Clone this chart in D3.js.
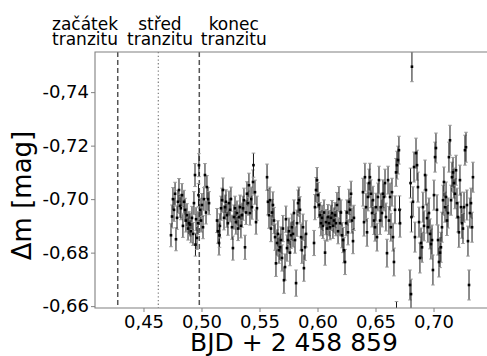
<!DOCTYPE html>
<html>
<head>
<meta charset="utf-8">
<script src="https://cdn.jsdelivr.net/npm/d3@7"></script>
<style>
  html, body { margin: 0; padding: 0; background: #fff; }
  svg { display: block; font-family: "DejaVu Sans", sans-serif; }
</style>
</head>
<body>
<svg id="chart" width="487" height="356"></svg>
<script>
// light curve, BJD - 2458859 vs differential magnitude
const bjd = [
  0.4737, 0.4746, 0.4754, 0.4763, 0.4772, 0.4780, 0.4789, 0.4797, 0.4806, 0.4815,
  0.4823, 0.4832, 0.4840, 0.4849, 0.4858, 0.4866, 0.4875, 0.4884, 0.4892, 0.4901,
  0.4909, 0.4918, 0.4927, 0.4935, 0.4944, 0.4948, 0.4953, 0.4961, 0.4970, 0.4974,
  0.4978, 0.4987, 0.4996, 0.5004, 0.5013, 0.5021, 0.5030, 0.5039, 0.5047, 0.5056,
  0.5065,
  0.5134, 0.5142, 0.5151, 0.5155, 0.5159, 0.5168, 0.5177, 0.5185, 0.5194, 0.5203,
  0.5211, 0.5220, 0.5228, 0.5237, 0.5246, 0.5254, 0.5263, 0.5271, 0.5280, 0.5289,
  0.5297, 0.5306, 0.5315, 0.5323, 0.5332, 0.5340, 0.5349, 0.5358, 0.5366, 0.5375,
  0.5384, 0.5392, 0.5401, 0.5409, 0.5418, 0.5427, 0.5435, 0.5444, 0.5448, 0.5461,
  0.5470, 0.5478,
  0.5565, 0.5573, 0.5582, 0.5590, 0.5599, 0.5608, 0.5616, 0.5625, 0.5634, 0.5642,
  0.5651, 0.5659, 0.5668, 0.5677, 0.5685, 0.5694, 0.5702, 0.5711, 0.5720, 0.5728,
  0.5737, 0.5746, 0.5754, 0.5763, 0.5771, 0.5780, 0.5789, 0.5797, 0.5806, 0.5815,
  0.5823, 0.5832, 0.5840, 0.5849, 0.5858, 0.5866, 0.5875, 0.5883, 0.5892, 0.5901,
  0.5970, 0.5978, 0.5987, 0.5996, 0.6004, 0.6013, 0.6021, 0.6030, 0.6039, 0.6047,
  0.6056, 0.6065, 0.6073, 0.6082, 0.6090, 0.6099, 0.6108, 0.6116, 0.6125, 0.6133,
  0.6142, 0.6151, 0.6159, 0.6168, 0.6177, 0.6185, 0.6194, 0.6202, 0.6211, 0.6220,
  0.6228, 0.6237, 0.6246, 0.6254, 0.6263, 0.6271, 0.6280, 0.6289, 0.6297, 0.6306,
  0.6314,
  0.6392, 0.6401, 0.6409, 0.6418, 0.6427, 0.6435, 0.6444, 0.6452, 0.6461, 0.6470,
  0.6478, 0.6487, 0.6496, 0.6504, 0.6513, 0.6521, 0.6530, 0.6539, 0.6547, 0.6556,
  0.6564, 0.6573, 0.6582, 0.6590, 0.6599, 0.6608, 0.6616, 0.6625, 0.6633, 0.6642,
  0.6651, 0.6659, 0.6668, 0.6677, 0.6681, 0.6685, 0.6694, 0.6702, 0.6707, 0.6711,
  0.6797, 0.6802, 0.6806, 0.6810, 0.6814, 0.6823, 0.6832, 0.6840, 0.6849, 0.6858,
  0.6866, 0.6875, 0.6883, 0.6892, 0.6901, 0.6909, 0.6918, 0.6927, 0.6935, 0.6944,
  0.6952, 0.6961, 0.6970, 0.6978, 0.6987, 0.6995, 0.7004, 0.7013, 0.7021, 0.7030,
  0.7039, 0.7047, 0.7056, 0.7064, 0.7073, 0.7082, 0.7090, 0.7099, 0.7108, 0.7116,
  0.7125, 0.7133, 0.7142, 0.7151, 0.7159, 0.7168, 0.7176, 0.7185, 0.7194, 0.7202,
  0.7211, 0.7219, 0.7228, 0.7237, 0.7245, 0.7254, 0.7263, 0.7271, 0.7280, 0.7288,
  0.7297, 0.7306, 0.7314, 0.7323, 0.7332, 0.7340
];

const dmag = [
  -0.6865, -0.6935, -0.7000, -0.6960, -0.7020, -0.6850, -0.6930, -0.6990, -0.7034, -0.6975,
  -0.6966, -0.7015, -0.6900, -0.6990, -0.6960, -0.6920, -0.6940, -0.6890, -0.6910, -0.6905,
  -0.6880, -0.6930, -0.6870, -0.6985, -0.7090, -0.6830, -0.6925, -0.6855, -0.6910, -0.7015,
  -0.7127, -0.6960, -0.6920, -0.6978, -0.6895, -0.7000, -0.7090, -0.6950, -0.7045, -0.7000,
  -0.6985,
  -0.6920, -0.6880, -0.6836, -0.6865, -0.6900, -0.6966, -0.6996, -0.7034, -0.6930, -0.6970,
  -0.6990, -0.6940, -0.6910, -0.6985, -0.6960, -0.7000, -0.6895, -0.6817, -0.6933, -0.6966,
  -0.6914, -0.6948, -0.6890, -0.6933, -0.6970, -0.6900, -0.6940, -0.6966, -0.6996, -0.6820,
  -0.6950, -0.7020, -0.6985, -0.7052, -0.6948, -0.7000, -0.6970, -0.7064, -0.7127, -0.7026,
  -0.6914, -0.6966,
  -0.7082, -0.6990, -0.6940, -0.6996, -0.6890, -0.6950, -0.6978, -0.6920, -0.6858, -0.6760,
  -0.6836, -0.6870, -0.6809, -0.6820, -0.6847, -0.6780, -0.6890, -0.6697, -0.6746, -0.6925,
  -0.6817, -0.6847, -0.6880, -0.6800, -0.6865, -0.6895, -0.6870, -0.6948, -0.6847, -0.6686,
  -0.6910, -0.6985, -0.6996, -0.6960, -0.6858, -0.6809, -0.6895, -0.6742, -0.6820, -0.6870,
  -0.6836, -0.6970, -0.7034, -0.7071, -0.7015, -0.6978, -0.6940, -0.6910, -0.6930, -0.6900,
  -0.6950, -0.6800, -0.6914, -0.6890, -0.6933, -0.6910, -0.6895, -0.6930, -0.6948, -0.6900,
  -0.6920, -0.6940, -0.6910, -0.6978, -0.6880, -0.7000, -0.6910, -0.6950, -0.6865, -0.6847,
  -0.6809, -0.6765, -0.6910, -0.6950, -0.6876, -0.6990, -0.6960, -0.7020, -0.6920, -0.6843,
  -0.6930,
  -0.7026, -0.6914, -0.7082, -0.6970, -0.6876, -0.7008, -0.7060, -0.7082, -0.7020, -0.6948,
  -0.6996, -0.6920, -0.6895, -0.6970, -0.6858, -0.7008, -0.7071, -0.6920, -0.6970, -0.6948,
  -0.7020, -0.7008, -0.7060, -0.6933, -0.6798, -0.7071, -0.6920, -0.7008, -0.6895, -0.7026,
  -0.6858, -0.6765, -0.6960, -0.7100, -0.6565, -0.7127, -0.7146, -0.7183, -0.6960, -0.6910,
  -0.6679, -0.7060, -0.6645, -0.6933, -0.7495, -0.6990, -0.7120, -0.6858, -0.7172, -0.7127,
  -0.7045, -0.6914, -0.6780, -0.6836, -0.6820, -0.6970, -0.6900, -0.7090, -0.7034, -0.6929,
  -0.6895, -0.6948, -0.6870, -0.6832, -0.6847, -0.6735, -0.7015, -0.7157, -0.7191, -0.6960,
  -0.6847, -0.6765, -0.6800, -0.6820, -0.6895, -0.6996, -0.7064, -0.6970, -0.7008, -0.6920,
  -0.6948, -0.7157, -0.7220, -0.6996, -0.7082, -0.7100, -0.7060, -0.7020, -0.7108, -0.6985,
  -0.6933, -0.6876, -0.7071, -0.6970, -0.6910, -0.6890, -0.6970, -0.7183, -0.7194, -0.6978,
  -0.6843, -0.6679, -0.6948, -0.6985, -0.6895, -0.7082
];

// photometric error per observing block (block start times)
const blockStart = [0.47, 0.51, 0.553, 0.594, 0.636, 0.676];
const blockErr   = [0.0043, 0.0045, 0.0049, 0.0047, 0.0052, 0.0056];

// transit markers
const transitT = [0.4278, 0.4628, 0.4981];
const transitStyle = ["dash", "dot", "dash"];
const transitLabel = [["začátek", "tranzitu"], ["střed", "tranzitu"], ["konec", "tranzitu"]];
const transitLabelT = [0.3996, 0.4642, 0.5278];

const xTicks = [0.45, 0.50, 0.55, 0.60, 0.65, 0.70];
const yTicks = [-0.74, -0.72, -0.70, -0.68, -0.66];

const svg = d3.select("#chart");
const plot = { left: 95, right: 487, top: 52, bottom: 308 };

const x = d3.scaleLinear().domain([0.4082, 0.7461]).range([plot.left, plot.right]);
const y = d3.scaleLinear().domain([-0.6593, -0.7550]).range([plot.bottom, plot.top]);

const loc = d3.formatLocale({ decimal: ",", thousands: " ", grouping: [3], currency: ["", ""], minus: "-" });
const fmt = loc.format(".2f");

const errFor = t => {
  const i = d3.bisectRight(blockStart, t) - 1;
  return blockErr[Math.max(0, i)];
};
const pts = bjd.map((t, i) => ({ t, m: dmag[i], e: errFor(t) }));

svg.append("defs").append("clipPath").attr("id", "clip")
  .append("rect")
  .attr("x", plot.left).attr("y", plot.top)
  .attr("width", plot.right - plot.left + 5).attr("height", plot.bottom - plot.top);

// transit lines
const tl = svg.append("g").attr("clip-path", "url(#clip)");
tl.selectAll("line")
  .data(transitT)
  .join("line")
  .attr("x1", d => x(d)).attr("x2", d => x(d))
  .attr("y1", plot.top).attr("y2", plot.bottom)
  .attr("stroke", (d, i) => transitStyle[i] === "dash" ? "#555" : "#888")
  .attr("stroke-width", (d, i) => transitStyle[i] === "dash" ? 1.5 : 1.3)
  .attr("stroke-dasharray", (d, i) => transitStyle[i] === "dash" ? "5,3" : "1.3,2.4");

// data with error bars
const g = svg.append("g").attr("clip-path", "url(#clip)");
const pt = g.selectAll("g.pt").data(pts).join("g").attr("class", "pt");
pt.append("line")
  .attr("x1", d => x(d.t)).attr("x2", d => x(d.t))
  .attr("y1", d => y(d.m - d.e)).attr("y2", d => y(d.m + d.e))
  .attr("stroke", "#1a1a1a").attr("stroke-width", 1);
pt.append("line")
  .attr("x1", d => x(d.t) - 1.8).attr("x2", d => x(d.t) + 1.8)
  .attr("y1", d => y(d.m - d.e)).attr("y2", d => y(d.m - d.e))
  .attr("stroke", "#999").attr("stroke-width", 1);
pt.append("line")
  .attr("x1", d => x(d.t) - 1.8).attr("x2", d => x(d.t) + 1.8)
  .attr("y1", d => y(d.m + d.e)).attr("y2", d => y(d.m + d.e))
  .attr("stroke", "#999").attr("stroke-width", 1);
g.selectAll("rect.mk").data(pts).join("rect").attr("class", "mk")
  .attr("x", d => x(d.t) - 1.3).attr("y", d => y(d.m) - 1.3)
  .attr("width", 2.6).attr("height", 2.6)
  .attr("fill", "#000");

// frame
svg.append("path")
  .attr("d", `M${plot.right + 5},${plot.top}H${plot.left}V${plot.bottom}H${plot.right + 5}`)
  .attr("fill", "none").attr("stroke", "#808080").attr("stroke-width", 1.1);

// axes
const xAxis = svg.append("g")
  .attr("transform", `translate(0,${plot.bottom})`)
  .call(d3.axisBottom(x).tickValues(xTicks).tickFormat(fmt).tickSize(4).tickPadding(3));
const yAxis = svg.append("g")
  .attr("transform", `translate(${plot.left},0)`)
  .call(d3.axisLeft(y).tickValues(yTicks).tickFormat(fmt).tickSize(4).tickPadding(2));
[xAxis, yAxis].forEach(a => {
  a.select(".domain").remove();
  a.selectAll(".tick line").attr("stroke", "#808080");
  a.selectAll(".tick text").attr("fill", "#000").style("font-size", "18px")
    .style("font-family", "DejaVu Sans, sans-serif");
});

// axis titles
svg.append("text")
  .attr("x", 294).attr("y", 351)
  .attr("text-anchor", "middle")
  .style("font-size", "25px")
  .text("BJD + 2 458 859");
svg.append("text")
  .attr("transform", "translate(31,195.5) rotate(-90)")
  .attr("text-anchor", "middle")
  .style("font-size", "26px")
  .text("Δm [mag]");

// transit labels (two lines each)
const lab = svg.append("g").style("font-size", "17px").attr("text-anchor", "middle");
transitLabel.forEach((lines, i) => {
  const t = lab.append("text").attr("y", 29.5);
  lines.forEach((s, j) => {
    t.append("tspan")
      .attr("x", x(transitLabelT[i]))
      .attr("dy", j === 0 ? 0 : 15)
      .text(s);
  });
});
</script>
</body>
</html>
